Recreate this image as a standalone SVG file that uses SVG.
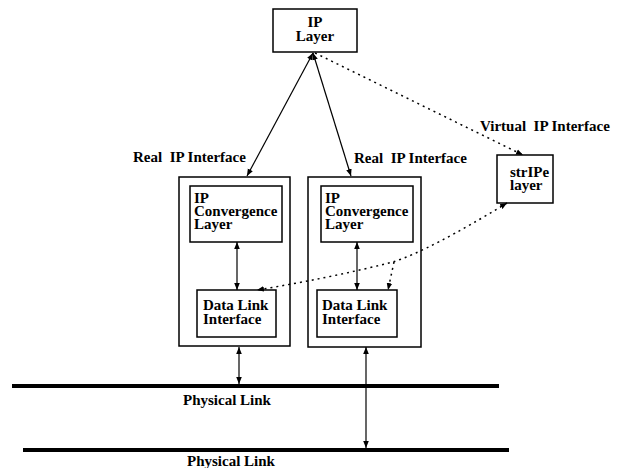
<svg xmlns="http://www.w3.org/2000/svg" width="621" height="468" viewBox="0 0 621 468">
<defs>
<marker id="ah" viewBox="0 0 10 10" refX="10" refY="5" markerWidth="7" markerHeight="7" orient="auto-start-reverse" markerUnits="userSpaceOnUse">
<path d="M0,1 L10,5 L0,9 z" fill="#000"/>
</marker>
<style>
text{font-family:"Liberation Serif","Times New Roman",serif;font-weight:bold;font-size:15px;fill:#000;white-space:pre}
.box{fill:#fff;stroke:#000;stroke-width:1.5}
.ln{stroke:#000;stroke-width:1.2;fill:none}
.dot{stroke:#000;stroke-width:1.5;fill:none;stroke-dasharray:2,4}
.phy{stroke:#000;stroke-width:4}
</style>
</defs>
<rect width="621" height="468" fill="#fff"/>
<g id="ip-layer">
<rect class="box" x="273" y="9" width="84" height="43"/>
<text x="315" y="27" text-anchor="middle">IP</text>
<text x="315" y="41" text-anchor="middle">Layer</text>
</g>
<g id="left-interface">
<rect class="box" x="179" y="177" width="111" height="169"/>
<g id="left-conv">
<rect class="box" x="190" y="186" width="92" height="56"/>
<text x="194" y="203">IP</text>
<text x="194" y="216">Convergence</text>
<text x="194" y="229">Layer</text>
</g>
<g id="left-dli">
<rect class="box" x="197" y="290" width="79" height="47"/>
<text x="203" y="310">Data Link</text>
<text x="203" y="324">Interface</text>
</g>
</g>
<g id="right-interface">
<rect class="box" x="308" y="177" width="113" height="170"/>
<g id="right-conv">
<rect class="box" x="321" y="186" width="92" height="56"/>
<text x="325" y="203">IP</text>
<text x="325" y="216">Convergence</text>
<text x="325" y="229">Layer</text>
</g>
<g id="right-dli">
<rect class="box" x="317" y="290" width="80" height="47"/>
<text x="322" y="310">Data Link</text>
<text x="322" y="324">Interface</text>
</g>
</g>
<g id="stripe">
<rect class="box" x="497" y="155" width="56" height="48"/>
<text x="510" y="177">strIPe</text>
<text x="510" y="190">layer</text>
</g>
<g id="physical-links">
<line class="phy" x1="12" y1="386" x2="499" y2="386"/>
<line class="phy" x1="23" y1="450" x2="509" y2="450"/>
</g>
<g id="labels">
<text x="133" y="162">Real  IP Interface</text>
<text x="354" y="163">Real  IP Interface</text>
<text x="480" y="131">Virtual  IP Interface</text>
<text x="183" y="405">Physical Link</text>
<text x="187" y="466">Physical Link</text>
</g>
<g id="connectors">
<line class="ln" x1="313" y1="53" x2="247" y2="176" marker-start="url(#ah)" marker-end="url(#ah)"/>
<line class="ln" x1="313" y1="53" x2="351" y2="176" marker-start="url(#ah)" marker-end="url(#ah)"/>
<line class="dot" x1="315" y1="53" x2="523" y2="155" marker-end="url(#ah)"/>
<line class="ln" x1="237" y1="242" x2="237" y2="290" marker-start="url(#ah)" marker-end="url(#ah)"/>
<line class="ln" x1="357" y1="242" x2="357" y2="290" marker-start="url(#ah)" marker-end="url(#ah)"/>
<path class="dot" d="M507,203 Q430,250 393,262 Q330,278 257,290" marker-start="url(#ah)" marker-end="url(#ah)"/>
<line class="dot" x1="394" y1="262" x2="388" y2="290" marker-end="url(#ah)"/>
<line class="ln" x1="239" y1="347" x2="239" y2="384" marker-start="url(#ah)" marker-end="url(#ah)"/>
<line class="ln" x1="366" y1="347" x2="366" y2="448" marker-start="url(#ah)" marker-end="url(#ah)"/>
</g>
</svg>
